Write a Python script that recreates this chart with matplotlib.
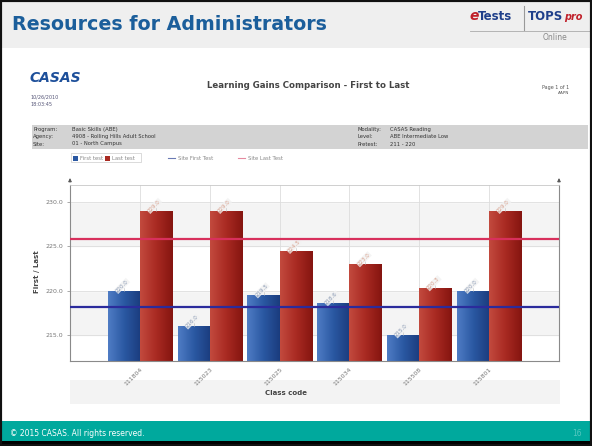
import numpy as np
import matplotlib
matplotlib.use("Agg")
import matplotlib.pyplot as plt
import matplotlib.patches as mpatches
from matplotlib.colors import LinearSegmentedColormap

# --- data
class_codes = ["111804", "115023", "115025", "115034", "115508", "115801"]
first_test = [220.0, 216.0, 219.5, 218.6, 215.0, 220.0]
last_test = [229.0, 229.0, 224.5, 223.0, 220.3, 229.0]
site_first = 218.2
site_last = 225.8
y_ticks = [215.0, 220.0, 225.0, 230.0]

info_left = [("Program:", "Basic Skills (ABE)"),
             ("Agency:", "4908 - Rolling Hills Adult School"),
             ("Site:", "01 - North Campus")]
info_right = [("Modality:", "CASAS Reading"),
              ("Level:", "ABE Intermediate Low"),
              ("Pretest:", "211 - 220")]

W, H = 592, 446


def fx(x):
    return x / W


def fy(y):
    return 1 - y / H


def fig_rect(x0, y_top, w, h, **kw):
    kw.setdefault("edgecolor", "none")
    kw.setdefault("zorder", -1)
    fig.patches.append(mpatches.Rectangle((fx(x0), fy(y_top + h)), w / W, h / H,
                                          transform=fig.transFigure, **kw))


fig = plt.figure(figsize=(W / 100, H / 100), dpi=100)
fig.patch.set_facecolor("white")

# --- slide chrome
fig_rect(0, 0, W, 48, facecolor="#efefef")
fig_rect(0, 421, W, 20, facecolor="#00a99d")
fig_rect(0, 441, W, 5, facecolor="black")
fig_rect(0, 0, W, H, facecolor="none", edgecolor="#111111", linewidth=3, zorder=5)

fig.text(fx(12), fy(24), "Resources for Administrators", fontsize=13.7, fontweight="bold",
         color="#1b5e9b", ha="left", va="center")

# logo
fig.text(fx(469), fy(16), "e", fontsize=10, fontweight="bold", style="italic", color="#c0202a",
         ha="left", va="center")
fig.text(fx(478), fy(16), "Tests", fontsize=8.5, fontweight="bold", color="#1f3f8a",
         ha="left", va="center")
fig.text(fx(528), fy(16), "TOPS", fontsize=8.5, fontweight="bold", color="#1f3f8a",
         ha="left", va="center")
fig.text(fx(564), fy(17), "pro", fontsize=7, fontweight="bold", style="italic", color="#c0202a",
         ha="left", va="center")
fig.lines.append(plt.Line2D([fx(524), fx(524)], [fy(6), fy(30)], transform=fig.transFigure,
                            color="#999999", linewidth=0.8))
fig.lines.append(plt.Line2D([fx(470), fx(590)], [fy(31), fy(31)], transform=fig.transFigure,
                            color="#aaaaaa", linewidth=0.6))
fig.text(fx(555), fy(38), "Online", fontsize=5.5, color="#888888", ha="center", va="center")

fig.text(fx(10), fy(433), "\u00a9 2015 CASAS. All rights reserved.", fontsize=5.5, color="white",
         ha="left", va="center")
fig.text(fx(582), fy(433), "16", fontsize=5.5, color="#55c8c0", ha="right", va="center")

# --- report header
fig.text(fx(30), fy(78), "CASAS", fontsize=10, fontweight="bold", style="italic",
         color="#1d4f9a", ha="left", va="center")
fig.text(fx(30), fy(97), "10/26/2010", fontsize=3.5, color="#555577", ha="left", va="center")
fig.text(fx(30), fy(105), "18:03:45", fontsize=3.5, color="#555577", ha="left", va="center")
fig.text(fx(308), fy(86), "Learning Gains Comparison - First to Last", fontsize=6.2,
         fontweight="bold", color="#444444", ha="center", va="center")
fig.text(fx(569), fy(87), "Page 1 of 1", fontsize=3.5, color="#555555", ha="right", va="center")
fig.text(fx(569), fy(93), "AAPN", fontsize=3, color="#555555", ha="right", va="center")

fig_rect(32, 125, 556, 24, facecolor="#d3d3d3")
for i, (k, v) in enumerate(info_left):
    fig.text(fx(33), fy(129 + 7.5 * i), k, fontsize=3.8, color="#333333", ha="left", va="center")
    fig.text(fx(72), fy(129 + 7.5 * i), v, fontsize=3.8, color="#333333", ha="left", va="center")
for i, (k, v) in enumerate(info_right):
    fig.text(fx(357), fy(129 + 7.5 * i), k, fontsize=3.8, color="#333333", ha="left", va="center")
    fig.text(fx(390), fy(129 + 7.5 * i), v, fontsize=3.8, color="#333333", ha="left", va="center")

# band behind the x labels
fig_rect(70, 380, 490, 24, facecolor="#f3f3f3")

# --- chart
ax = fig.add_axes([fx(70), fy(361), fx(559 - 70), (361 - 185) / H])
ax.set_xlim(0, 7)
ax.set_ylim(212.1, 231.9)

# alternating bands
bands = [212.1] + y_ticks + [231.9]
for i in range(len(bands) - 1):
    ax.axhspan(bands[i], bands[i + 1], color="#f4f4f4" if i % 2 else "white", zorder=0)
for t in y_ticks:
    ax.axhline(t, color="#dddddd", linewidth=0.6, zorder=1)

x = np.arange(1, len(class_codes) + 1)
for c in x:
    ax.axvline(c, color="#dddddd", linewidth=0.6, zorder=1)

bw = 0.46
blue_cmap = LinearSegmentedColormap.from_list("b", ["#4f7cc4", "#2a58a2", "#1a3c7e"])
red_cmap = LinearSegmentedColormap.from_list("r", ["#c24a3e", "#a92a22", "#851510"])
grad = np.linspace(0, 1, 64).reshape(1, -1)

b1 = ax.bar(x - bw / 2, np.array(first_test) - 212.1, bw, bottom=212.1, color="#2a58a2", zorder=2)
b2 = ax.bar(x + bw / 2, np.array(last_test) - 212.1, bw, bottom=212.1, color="#a92a22", zorder=2)
for bars, cmap in ((b1, blue_cmap), (b2, red_cmap)):
    for p in bars:
        x0, y0 = p.get_x(), p.get_y()
        im = ax.imshow(grad, cmap=cmap, aspect="auto", zorder=2.1,
                       extent=[x0, x0 + p.get_width(), y0, y0 + p.get_height()])
        im.set_clip_path(p)

# value labels above bars
for xs, vals, col in ((x - bw / 2, first_test, "#8a9ab4"), (x + bw / 2, last_test, "#d8a08c")):
    for xi, v in zip(xs, vals):
        ax.plot([xi, xi], [v, v + 0.35], color="#bbbbbb", linewidth=0.4, zorder=3)
        ax.text(xi, v + 0.35, f"{v:.1f}", rotation=45, fontsize=4, color=col,
                ha="center", va="bottom", zorder=4, rotation_mode="anchor",
                bbox=dict(boxstyle="square,pad=0.1", fc="#f2f2f2", ec="none", alpha=0.8))

ax.axhline(site_first, color="#2b2b9c", linewidth=1.6, zorder=5)
ax.axhline(site_last, color="#d8305c", linewidth=1.6, zorder=5)

ax.set_yticks(y_ticks)
ax.set_yticklabels([f"{t:.1f}" for t in y_ticks], fontsize=4.5, color="#777777")
ax.set_xticks(x)
ax.set_xticklabels(class_codes, rotation=45, ha="right", va="top", fontsize=4.5,
                   color="#777777", rotation_mode="anchor")
ax.tick_params(axis="x", length=0, pad=4)
ax.tick_params(axis="y", length=2, width=0.5, color="#888888", pad=3)
for s in ("left", "right", "bottom"):
    ax.spines[s].set_color("#8a8a8a")
    ax.spines[s].set_linewidth(0.8)
ax.spines["top"].set_color("#c8c8c8")
ax.spines["top"].set_linewidth(0.6)

# axis arrows poking above the plot
for xa in (0, 1):
    ax.annotate("", xy=(xa, 1.055), xytext=(xa, 1.0), xycoords="axes fraction",
                arrowprops=dict(arrowstyle="-|>", color="#555555", linewidth=0.6,
                                mutation_scale=5), annotation_clip=False)

fig.text(fx(37), fy(272), "First / Last", rotation=90, fontsize=5, fontweight="bold",
         color="#444444", ha="center", va="center")
fig.text(fx(286), fy(393), "Class code", fontsize=5, fontweight="bold", color="#444444",
         ha="center", va="center")

# legend row
fig_rect(71, 153, 70, 9, facecolor="white", edgecolor="#cccccc", linewidth=0.5, zorder=1)
fig_rect(73, 155.5, 5, 5, facecolor="#2a58a2", zorder=2)
fig.text(fx(80), fy(158), "First test", fontsize=3.8, color="#888888", ha="left", va="center")
fig_rect(105, 155.5, 5, 5, facecolor="#a92a22", zorder=2)
fig.text(fx(112), fy(158), "Last test", fontsize=3.8, color="#888888", ha="left", va="center")
fig.lines.append(plt.Line2D([fx(168), fx(175)], [fy(158), fy(158)], transform=fig.transFigure,
                            color="#6a7ab4", linewidth=0.8))
fig.text(fx(178), fy(158), "Site First Test", fontsize=3.8, color="#888888", ha="left", va="center")
fig.lines.append(plt.Line2D([fx(238), fx(245)], [fy(158), fy(158)], transform=fig.transFigure,
                            color="#e58aa0", linewidth=0.8))
fig.text(fx(248), fy(158), "Site Last Test", fontsize=3.8, color="#888888", ha="left", va="center")

fig.savefig("out.png", dpi=100)
